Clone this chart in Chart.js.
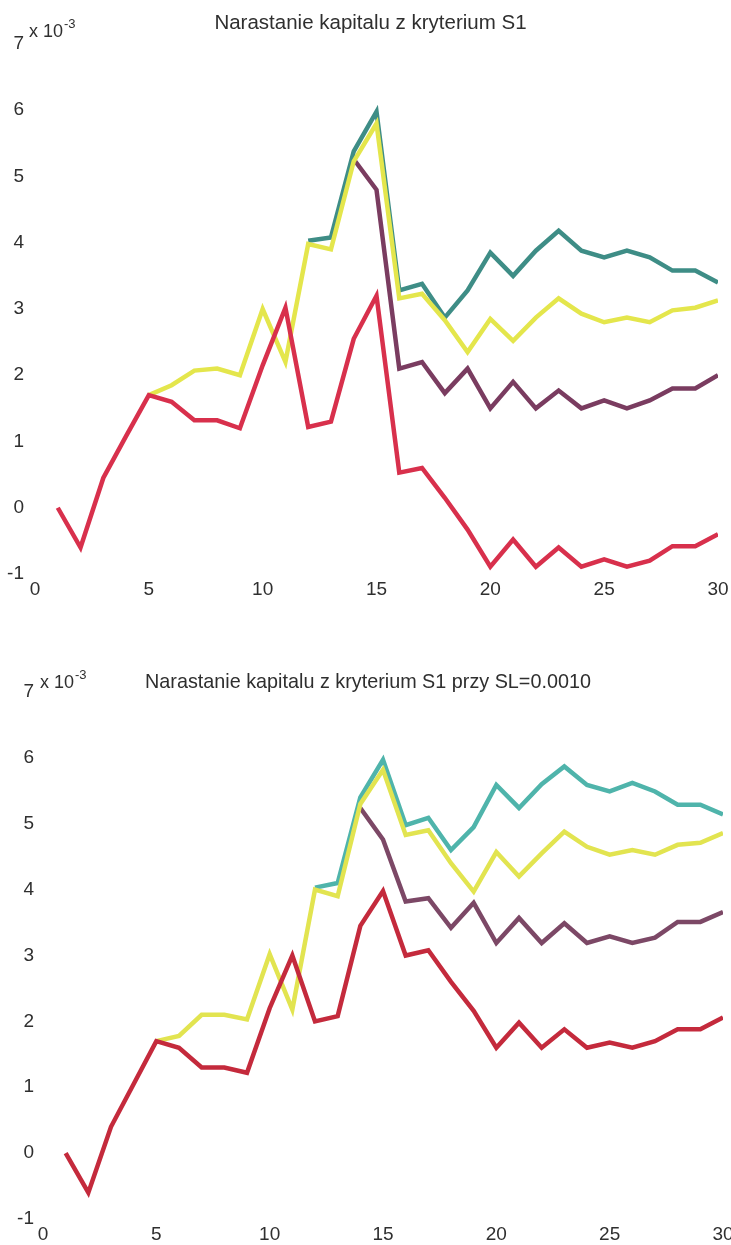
<!DOCTYPE html>
<html>
<head>
<meta charset="utf-8">
<script src="https://cdn.jsdelivr.net/npm/chart.js@4/dist/chart.umd.min.js"></script>
<style>
  html, body { margin: 0; padding: 0; background: #ffffff; }
  #wrap { position: relative; width: 731px; height: 1245px; overflow: hidden; }
  canvas { position: absolute; left: 0; display: block; }
  #c1 { top: 0; }
  #c2 { top: 615px; }
</style>
</head>
<body>
<div id="wrap">
  <canvas id="c1" width="731" height="615"></canvas>
  <canvas id="c2" width="731" height="630"></canvas>
</div>
<script>
// Session index (x axis)
const steps = [1,2,3,4,5,6,7,8,9,10,11,12,13,14,15,16,17,18,19,20,21,22,23,24,25,26,27,28,29,30];

// Capital growth, units of 1e-3 — criterion S1
// (null = the run coincides with a curve drawn above it)
const redS1    = [0, -0.6, 0.45, 1.08, 1.7, 1.6, 1.32, 1.32, 1.2, 2.15, 3.02, 1.22, 1.3, 2.55, 3.2, 0.53, 0.6, 0.15, -0.33, -0.89, -0.48, -0.89, -0.6, -0.89, -0.78, -0.89, -0.8, -0.58, -0.58, -0.4];
const yellowS1 = [null, null, null, null, 1.7, 1.85, 2.07, 2.1, 2.0, 3.0, 2.2, 3.98, 3.9, 5.23, 5.8, 3.16, 3.23, 2.83, 2.35, 2.85, 2.52, 2.87, 3.16, 2.93, 2.8, 2.87, 2.8, 2.98, 3.02, 3.13];
const purpleS1 = [null, null, null, null, null, null, null, null, null, null, null, null, null, 5.26, 4.8, 2.1, 2.2, 1.73, 2.1, 1.5, 1.9, 1.5, 1.77, 1.5, 1.62, 1.5, 1.62, 1.8, 1.8, 2.0];
const tealS1   = [null, null, null, null, null, null, null, null, null, null, null, 4.03, 4.08, 5.38, 5.98, 3.28, 3.38, 2.87, 3.28, 3.85, 3.5, 3.88, 4.18, 3.88, 3.78, 3.88, 3.78, 3.58, 3.58, 3.4];

// Capital growth, units of 1e-3 — criterion S1 with stop loss SL=0.0010
const redSL    = [0, -0.6, 0.4, 1.05, 1.7, 1.6, 1.3, 1.3, 1.22, 2.2, 3.0, 2.0, 2.08, 3.45, 3.98, 3.0, 3.08, 2.6, 2.16, 1.6, 1.98, 1.6, 1.88, 1.6, 1.68, 1.6, 1.7, 1.88, 1.88, 2.06];
const yellowSL = [null, null, null, null, 1.7, 1.78, 2.1, 2.1, 2.03, 3.02, 2.18, 4.0, 3.9, 5.3, 5.82, 4.83, 4.9, 4.4, 3.97, 4.57, 4.2, 4.55, 4.88, 4.65, 4.53, 4.6, 4.53, 4.68, 4.71, 4.86];
const purpleSL = [null, null, null, null, null, null, null, null, null, null, null, null, null, 5.24, 4.76, 3.82, 3.87, 3.42, 3.8, 3.19, 3.57, 3.19, 3.49, 3.19, 3.29, 3.19, 3.27, 3.51, 3.51, 3.66];
const tealSL   = [null, null, null, null, null, null, null, null, null, null, null, 4.03, 4.1, 5.4, 5.97, 4.98, 5.09, 4.6, 4.95, 5.59, 5.24, 5.6, 5.87, 5.59, 5.49, 5.62, 5.49, 5.29, 5.29, 5.14];

const xTicks = [0, 5, 10, 15, 20, 25, 30];
const yTicks = [-1, 0, 1, 2, 3, 4, 5, 6, 7];

const titleS1 = 'Narastanie kapitalu z kryterium S1';
const titleSL = 'Narastanie kapitalu z kryterium S1 przy SL=0.0010';
const expBase = 'x 10';
const expPow = '-3';

const FONT = "'Liberation Sans', Arial, sans-serif";
const TEXT = '#2f2f2f';

function points(arr) {
  return steps.map((x, i) => ({ x: x, y: arr[i] }));
}

function line(arr, color) {
  return {
    data: points(arr),
    borderColor: color,
    borderWidth: 4.5,
    pointRadius: 0,
    tension: 0,
    fill: false,
    spanGaps: false
  };
}

// Title and axis multiplier drawn onto the chart canvas
const annotate = {
  id: 'annotate',
  afterDraw(chart, args, o) {
    const ctx = chart.ctx;
    const a = chart.chartArea;
    ctx.save();
    ctx.fillStyle = TEXT;
    ctx.textBaseline = 'alphabetic';
    ctx.textAlign = 'center';
    ctx.font = o.titleSize + 'px ' + FONT;
    ctx.fillText(o.title, (a.left + a.right) / 2 + o.titleDx, o.titleY);
    ctx.textAlign = 'left';
    ctx.font = '18px ' + FONT;
    ctx.fillText(expBase, o.expX, o.expY);
    const w = ctx.measureText(expBase).width;
    ctx.font = '13px ' + FONT;
    ctx.fillText(expPow, o.expX + w + 1, o.expY - 9);
    ctx.restore();
  }
};

function makeChart(id, sets, cfg) {
  new Chart(document.getElementById(id), {
    type: 'line',
    data: {
      datasets: [
        line(sets.red, cfg.colors[0]),
        line(sets.yellow, cfg.colors[1]),
        line(sets.purple, cfg.colors[2]),
        line(sets.teal, cfg.colors[3])
      ]
    },
    options: {
      responsive: false,
      animation: false,
      events: [],
      layout: { padding: { left: 0, right: cfg.right, top: cfg.top, bottom: 0 } },
      plugins: {
        legend: { display: false },
        tooltip: { enabled: false },
        title: { display: false },
        annotate: cfg.annot
      },
      scales: {
        x: {
          type: 'linear',
          min: 0, max: 30,
          grid: { display: false, drawTicks: false },
          border: { display: false },
          afterBuildTicks(s) { s.ticks = xTicks.map(v => ({ value: v })); },
          afterFit(s) { s.height = cfg.xh; s.paddingLeft = 0; s.paddingRight = 0; },
          ticks: {
            font: { family: FONT, size: 19 },
            color: TEXT,
            padding: cfg.xpad,
            maxRotation: 0,
            autoSkip: false
          }
        },
        y: {
          min: -1, max: 7,
          grid: { display: false, drawTicks: false },
          border: { display: false },
          afterBuildTicks(s) { s.ticks = yTicks.map(v => ({ value: v })); },
          afterFit(s) { s.width = cfg.yw; s.paddingTop = 0; s.paddingBottom = 0; },
          ticks: {
            font: { family: FONT, size: 19 },
            color: TEXT,
            padding: cfg.ypad,
            autoSkip: false
          }
        }
      }
    },
    plugins: [annotate]
  });
}

makeChart('c1',
  { red: redS1, yellow: yellowS1, purple: purpleS1, teal: tealS1 },
  {
    colors: ['#d8304c', '#e4e64c', '#7a3c60', '#3e8d86'],
    right: 13, top: 44, xh: 41, xpad: 4, yw: 35, ypad: 11,
    annot: { title: titleS1, titleSize: 20.5, titleDx: -6, titleY: 29, expX: 29, expY: 37 }
  });

makeChart('c2',
  { red: redSL, yellow: yellowSL, purple: purpleSL, teal: tealSL },
  {
    colors: ['#c42a3c', '#e2e450', '#7c4866', '#4fb4ab'],
    right: 8, top: 77, xh: 26, xpad: 4, yw: 43, ypad: 9,
    annot: { title: titleSL, titleSize: 19.8, titleDx: -15, titleY: 73, expX: 40, expY: 73 }
  });
</script>
</body>
</html>
